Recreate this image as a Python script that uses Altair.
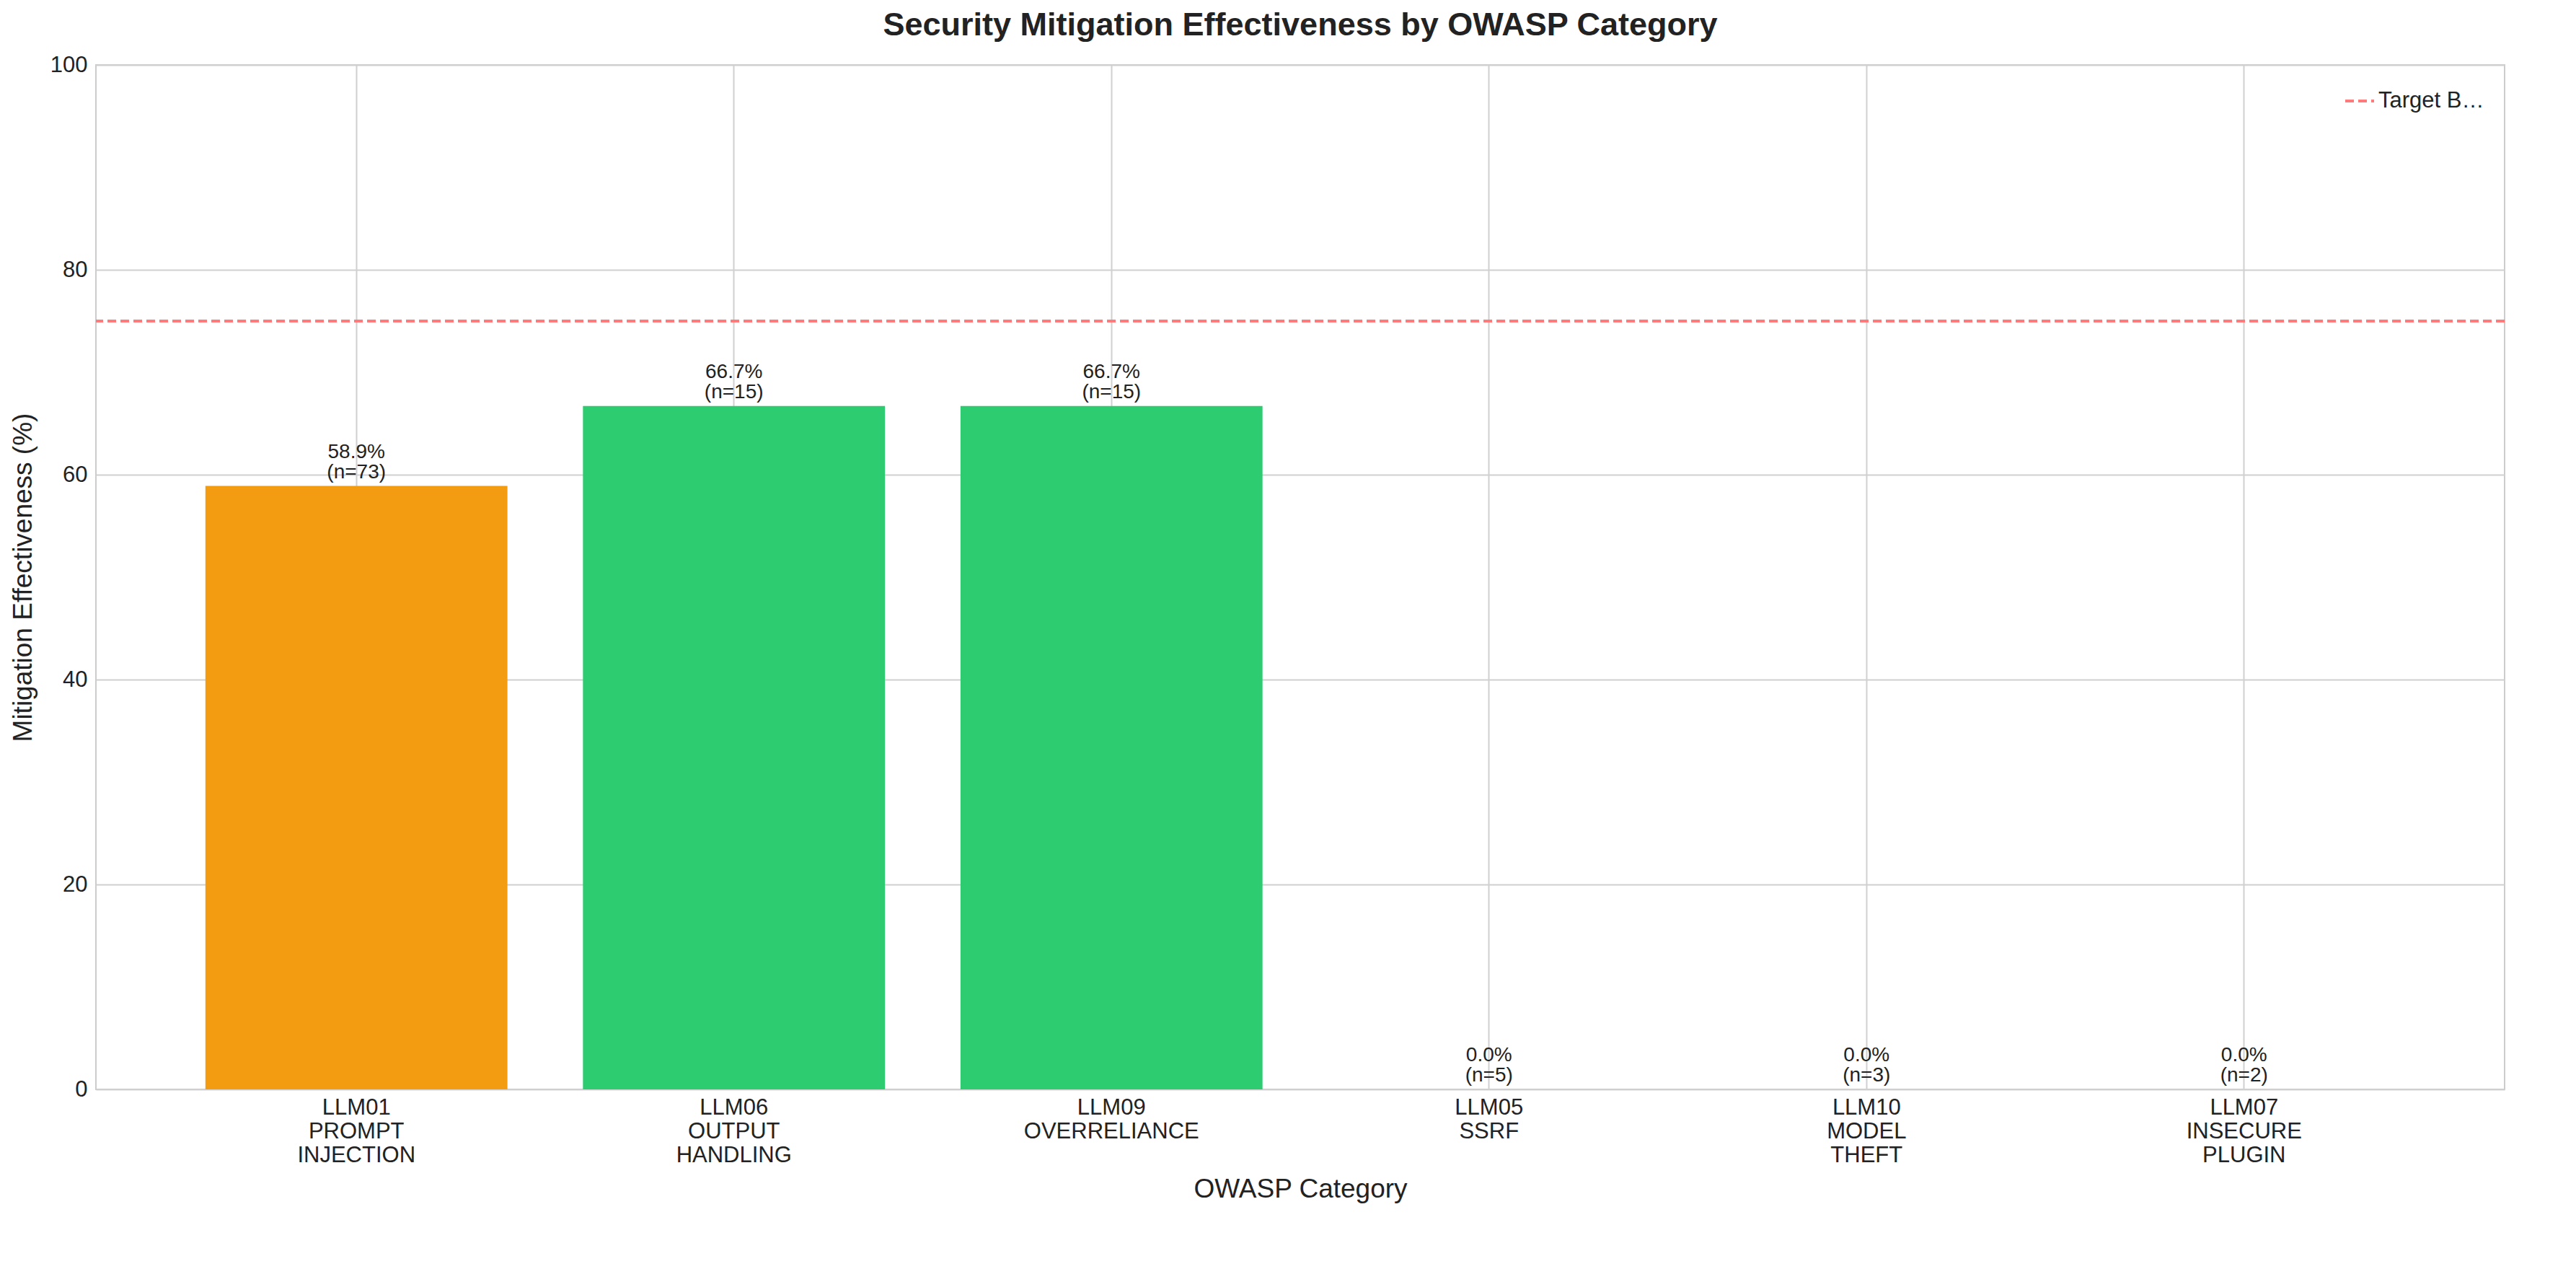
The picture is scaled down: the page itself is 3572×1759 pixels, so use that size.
import altair as alt
import pandas as pd

categories = ["LLM01|PROMPT|INJECTION", "LLM06|OUTPUT|HANDLING", "LLM09|OVERRELIANCE",
              "LLM05|SSRF", "LLM10|MODEL|THEFT", "LLM07|INSECURE|PLUGIN"]
effectiveness = [58.9, 66.7, 66.7, 0.0, 0.0, 0.0]
counts = [73, 15, 15, 5, 3, 2]
colors = ["#f39c12", "#2ecc71", "#2ecc71", "#e74c3c", "#e74c3c", "#e74c3c"]
baseline = 75

df = pd.DataFrame({
    "cat": categories,
    "eff": effectiveness,
    "n": counts,
    "color": colors,
})
df["pct"] = [f"{e:.1f}%" for e in effectiveness]
df["cnt"] = [f"(n={n})" for n in counts]

font = "Liberation Sans"

x = alt.X("cat:N", sort=categories, title="OWASP Category",
          scale=alt.Scale(paddingInner=0.2, paddingOuter=0.29),
          axis=alt.Axis(labelExpr="split(datum.label, '|')", labelAngle=0,
                        labelFontSize=31, titleFontSize=37, titlePadding=14,
                        labelPadding=10, labelLimit=0, ticks=False, domain=False,
                        grid=True, bandPosition=0.5, labelColor="#222",
                        titleColor="#222", titleFontWeight="normal"))
y = alt.Y("eff:Q", title="Mitigation Effectiveness (%)",
          scale=alt.Scale(domain=[0, 100]),
          axis=alt.Axis(values=[0, 20, 40, 60, 80, 100], labelFontSize=31,
                        titleFontSize=37, titlePadding=18, ticks=False,
                        domain=False, labelPadding=12, labelColor="#222",
                        titleColor="#222", titleFontWeight="normal"))

base = alt.Chart(df)
bars = base.mark_bar().encode(x=x, y=y, color=alt.Color("color:N", scale=None, legend=None))
xt = alt.X("cat:N", sort=categories)
text1 = base.mark_text(baseline="bottom", dy=-33, fontSize=28, font=font, color="#222").encode(
    x=xt, y="eff:Q", text="pct:N")
text2 = base.mark_text(baseline="bottom", dy=-5, fontSize=28, font=font, color="#222").encode(
    x=xt, y="eff:Q", text="cnt:N")

rule_df = pd.DataFrame({"y": [baseline], "name": ["Target Baseline (75%)"]})
rule = alt.Chart(rule_df).mark_rule(strokeDash=[12, 6], strokeWidth=4).encode(
    y="y:Q",
    color=alt.Color("name:N", scale=alt.Scale(range=["#ff7b7b"]),
                    legend=alt.Legend(title=None, orient="top-right", symbolType="stroke",
                                      symbolDash=[12, 6], symbolStrokeWidth=4,
                                      symbolSize=1600, labelFontSize=31, labelColor="#222",
                                      offset=20, padding=8)))

chart = alt.layer(bars, text1, text2, rule).resolve_scale(color="independent").properties(
    width=3340, height=1420,
    title=alt.Title("Security Mitigation Effectiveness by OWASP Category",
                    fontSize=45, fontWeight="bold", color="#222", offset=16),
).configure(font=font).configure_view(stroke="#cccccc", strokeWidth=2).configure_axis(
    gridColor="#d0d0d0", gridWidth=2)

chart.save("out.html", embed_options={"renderer": "svg", "actions": False})
